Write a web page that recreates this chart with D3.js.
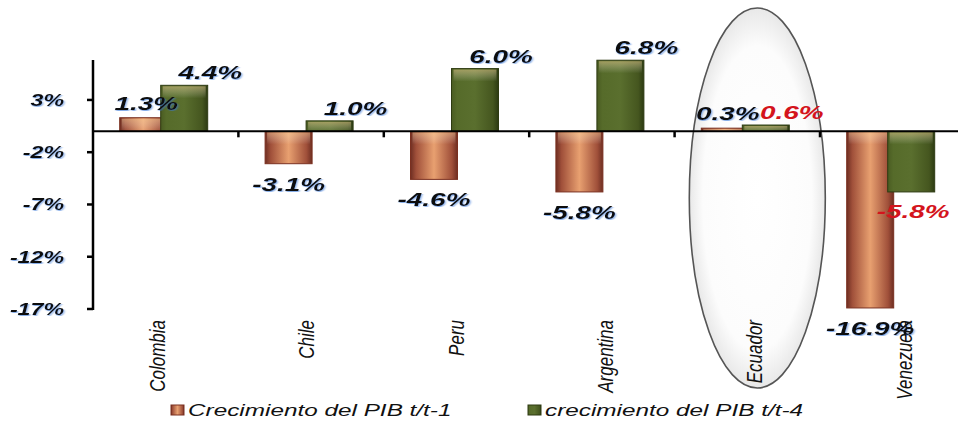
<!DOCTYPE html>
<html><head><meta charset="utf-8">
<script src="https://cdn.jsdelivr.net/npm/d3@7/dist/d3.min.js"></script>
<style>body{margin:0;background:#fff}svg{display:block}</style>
</head><body>
<svg id="c" width="958" height="425"></svg>
<script>
const categories = ["Colombia","Chile","Peru","Argentina","Ecuador","Venezuela"];
const seriesNames = ["Crecimiento del PIB t/t-1","crecimiento del PIB t/t-4"];
const qoq = [1.3,-3.1,-4.6,-5.8,0.3,-16.9];
const yoy = [4.4,1.0,6.0,6.8,0.6,-5.8];
const qoqLabels = ["1.3%","-3.1%","-4.6%","-5.8%","0.3%","-16.9%"];
const yoyLabels = ["4.4%","1.0%","6.0%","6.8%","0.6%","-5.8%"];
const yoyRed = [false,false,false,false,true,true];
const yTicks = [3,-2,-7,-12,-17];

const svg = d3.select("#c");
const defs = svg.append("defs");
function grad(id, stops){
  const g = defs.append("linearGradient").attr("id",id).attr("x1","0").attr("x2","1").attr("y1","0").attr("y2","0");
  stops.forEach(s=>g.append("stop").attr("offset",s[0]).attr("stop-color",s[1]));
}
grad("gO",[[0,"#6e2e22"],[0.12,"#a0503a"],[0.5,"#e8a070"],[0.88,"#a0503a"],[1,"#6e2e22"]]);
grad("gG",[[0,"#4a5c22"],[0.12,"#566b2a"],[0.5,"#5a6f2e"],[0.88,"#45561f"],[1,"#2c3a12"]]);
const gv = defs.append("linearGradient").attr("id","hl").attr("x1","0").attr("x2","0").attr("y1","0").attr("y2","1");
gv.append("stop").attr("offset",0).attr("stop-color","#ffd9a0").attr("stop-opacity",0.45);
gv.append("stop").attr("offset",1).attr("stop-color","#fff").attr("stop-opacity",0);
const rg = defs.append("radialGradient").attr("id","ell").attr("cx","0.5").attr("cy","0.5").attr("r","0.5");
rg.append("stop").attr("offset",0).attr("stop-color","#ffffff");
rg.append("stop").attr("offset",0.8).attr("stop-color","#fcfcfc");
rg.append("stop").attr("offset",1).attr("stop-color","#e8e8e8");
const flt = defs.append("filter").attr("id","glow").attr("x","-20%").attr("y","-30%").attr("width","140%").attr("height","160%");
flt.append("feGaussianBlur").attr("in","SourceAlpha").attr("stdDeviation",0.7).attr("result","b");
flt.append("feFlood").attr("flood-color","#3a78d8").attr("flood-opacity",0.6);
flt.append("feComposite").attr("in2","b").attr("operator","in").attr("result","s");
flt.append("feOffset").attr("in","s").attr("dx",0.8).attr("dy",0.8).attr("result","o");
const fm = flt.append("feMerge"); fm.append("feMergeNode").attr("in","o"); fm.append("feMergeNode").attr("in","SourceGraphic");

const x0 = 93, bw = 145.4;
const x = d3.scaleBand().domain(categories).range([x0, x0 + bw*categories.length]).paddingInner(0).paddingOuter(0);
const y = d3.scaleLinear().domain([0, -17]).range([131.3, 309]);
const yTop = 60;
const barW = 47, overlap = 6;
const font = "'Liberation Sans', Arial, sans-serif";

function stext(tx, ty, txt, o){
  const t = svg.append("text").attr("transform",`translate(${tx},${ty}) scale(${o.sx||1},1)`)
    .attr("text-anchor",o.anchor||"middle").attr("font-family",font).attr("font-style","italic")
    .attr("font-weight",o.bold?"bold":"normal").attr("font-size",o.size).attr("fill",o.fill||"#111").text(txt);
  if(o.glow) t.attr("filter","url(#glow)");
  return t;
}

// ellipse highlight around Ecuador
svg.append("ellipse").attr("cx", x("Ecuador")+x.bandwidth()/2+10).attr("cy",198).attr("rx",68).attr("ry",190)
  .attr("fill","url(#ell)").attr("stroke","#555").attr("stroke-width",1.6);

const pos = (i)=>{
  const cx = x(categories[i]) + x.bandwidth()/2;
  const xa = cx - barW + overlap/2 - 2;
  return [xa, xa + barW - overlap];
};
// bars
categories.forEach((c,i)=>{
  const [xa,xb] = pos(i);
  [[qoq[i],xa,"gO","#7a3020"],[yoy[i],xb,"gG","#2e3b12"]].forEach(([v,bx,g,st])=>{
    const top = y(Math.max(0,v)), h = Math.abs(y(v)-y(0));
    svg.append("rect").attr("x",bx).attr("y",top).attr("width",barW).attr("height",h)
      .attr("fill",`url(#${g})`).attr("stroke",st).attr("stroke-width",1);
    svg.append("rect").attr("x",bx+2).attr("y",top+1).attr("width",barW-4).attr("height",Math.min(12,h))
      .attr("fill","url(#hl)");
  });
});

// x axis line at zero
svg.append("line").attr("x1",x0).attr("x2",958).attr("y1",y(0)).attr("y2",y(0)).attr("stroke","#000").attr("stroke-width",2);
categories.forEach((c,i)=>{
  if(i>0) svg.append("line").attr("x1",x(c)).attr("x2",x(c)).attr("y1",y(0)).attr("y2",y(0)+6).attr("stroke","#000").attr("stroke-width",2.5);
});
// y axis
svg.append("line").attr("x1",x0).attr("x2",x0).attr("y1",yTop).attr("y2",y(-17)+1).attr("stroke","#000").attr("stroke-width",2.5);
yTicks.forEach(t=>{
  svg.append("line").attr("x1",x0-6).attr("x2",x0).attr("y1",y(t)).attr("y2",y(t)).attr("stroke","#000").attr("stroke-width",2.5);
  stext(64, y(t)+6, t+"%", {size:16, bold:true, sx:1.45, anchor:"end", glow:true});
});

// value labels
categories.forEach((c,i)=>{
  const [xa,xb] = pos(i);
  const lab = (tx,ty,txt,red)=>stext(tx,ty,txt,{size:18,bold:true,sx:1.55,fill:red?"#d4141c":"#111",glow:!red});
  const v1 = qoq[i];
  if(v1>=0) lab(xa+barW/2 + 3, y(v1)-8, qoqLabels[i], false);
  else lab(xa+barW/2, y(v1)+27, qoqLabels[i], false);
  const v2 = yoy[i];
  if(v2>=0) lab(xb+barW/2 + 26, y(v2)-6, yoyLabels[i], yoyRed[i]);
  else lab(xb+barW/2 + 2, y(v2)+26, yoyLabels[i], yoyRed[i]);
});

// category labels
categories.forEach((c,i)=>{
  const cx = x(c) + x.bandwidth()/2 - 1 + i*4;
  svg.append("text").attr("transform",`translate(${cx},320) rotate(-90) scale(1,1.3)`).attr("text-anchor","end")
    .attr("font-family",font).attr("font-style","italic").attr("font-size",17).attr("fill","#111").text(c);
});

// legend
const leg = [[171, "gO","#7a3020",0],[528,"gG","#2e3b12",1]];
leg.forEach(([lx,g,st,k])=>{
  svg.append("rect").attr("x",lx).attr("y",405).attr("width",13).attr("height",10).attr("fill",`url(#${g})`).attr("stroke",st).attr("stroke-width",1);
  stext(lx+17, 416, seriesNames[k], {size:16, sx:1.52, anchor:"start"});
});
</script>
</body></html>
